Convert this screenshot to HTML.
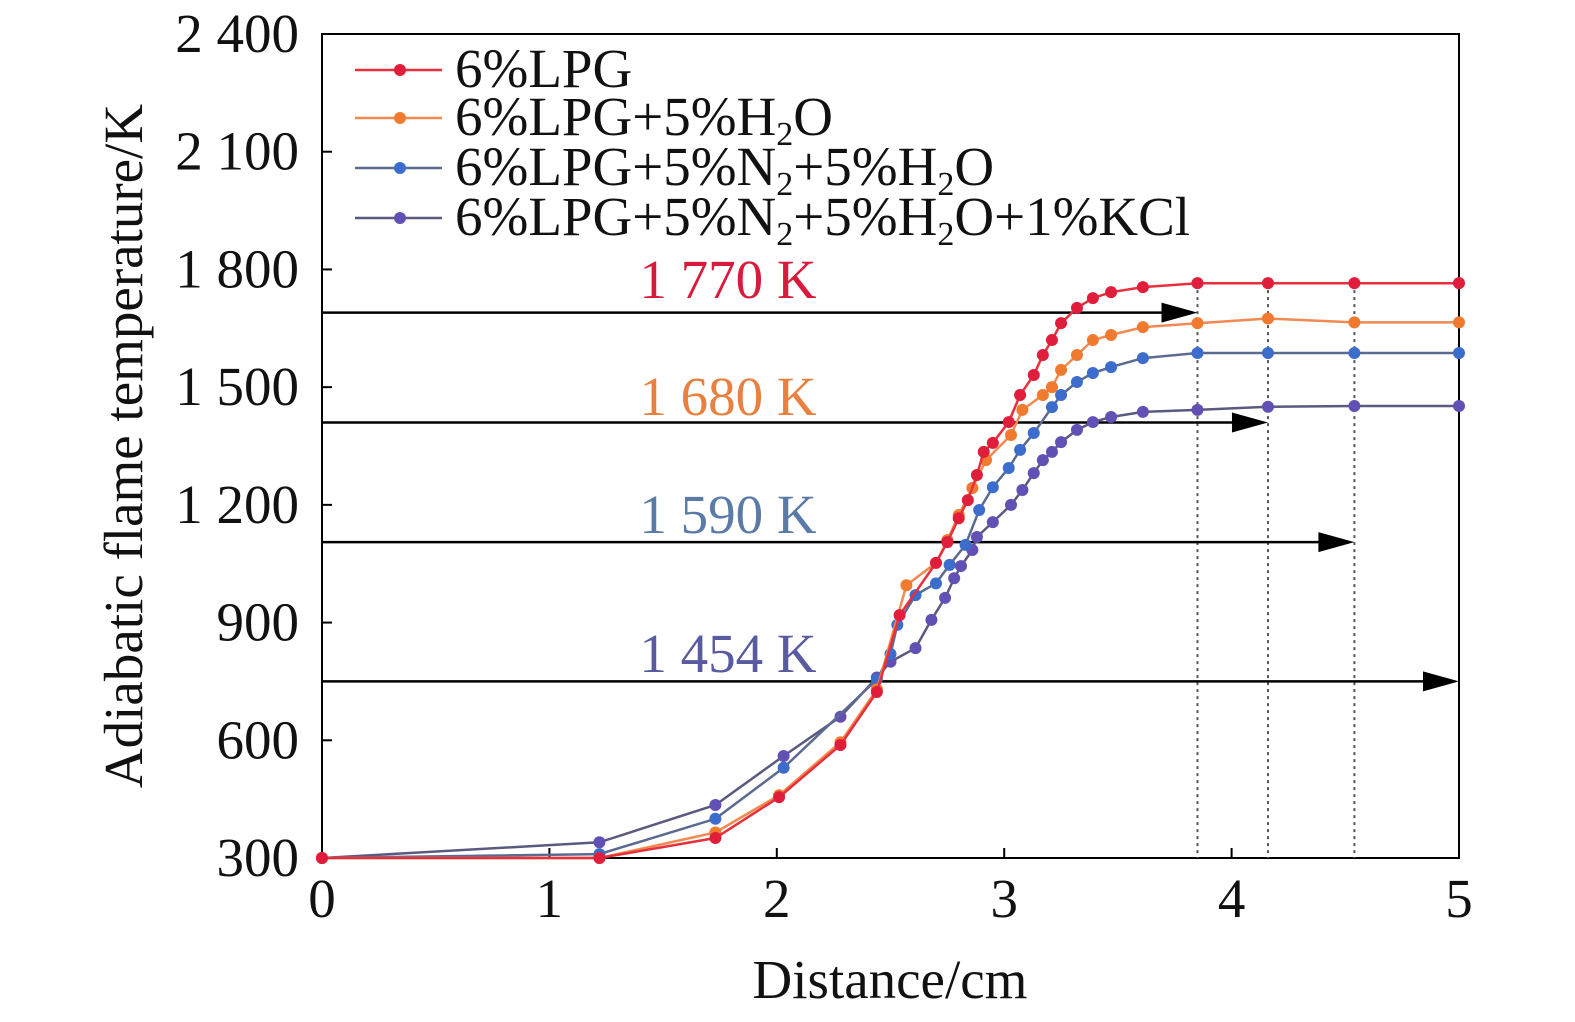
<!DOCTYPE html>
<html><head><meta charset="utf-8"><style>
body{margin:0;background:#fff;}
svg{display:block;font-family:"Liberation Serif",serif;}
</style></head><body>
<svg id="chart" width="1575" height="1022" viewBox="0 0 1575 1022"></svg>
<script>
const xTicks=[0,1,2,3,4,5];
const yTicks=[300,600,900,1200,1500,1800,2100,2400];
const yTickLabels=["300","600","900","1 200","1 500","1 800","2 100","2 400"];
const seriesNames=["6%LPG","6%LPG+5%H2O","6%LPG+5%N2+5%H2O","6%LPG+5%N2+5%H2O+1%KCl"];
const redX=[0,1.22,1.73,2.01,2.28,2.44,2.54,2.70,2.75,2.80,2.84,2.88,2.91,2.95,3.02,3.07,3.13,3.17,3.21,3.25,3.32,3.39,3.47,3.61,3.85,4.16,4.54,5];
const redT=[300,300,351,455,588,723,919,1052,1105,1166,1212,1276,1335,1358,1411,1480,1531,1582,1620,1663,1702,1727,1742,1755,1765,1765,1765,1765];
const orangeX=[0,1.22,1.73,2.01,2.28,2.44,2.57,2.70,2.75,2.80,2.86,2.92,3.03,3.08,3.17,3.21,3.25,3.32,3.39,3.47,3.61,3.85,4.16,4.54,5];
const orangeT=[300,300,365,460,595,730,995,1052,1110,1174,1243,1314,1378,1442,1480,1500,1544,1582,1620,1633,1653,1663,1675,1665,1665];
const blueX=[0,1.22,1.73,2.03,2.44,2.50,2.53,2.61,2.70,2.76,2.83,2.89,2.95,3.02,3.07,3.13,3.21,3.25,3.32,3.39,3.47,3.61,3.85,4.16,4.54,5];
const blueT=[300,310,400,530,755,820,894,970,1000,1047,1098,1187,1245,1294,1340,1383,1449,1480,1513,1536,1551,1574,1587,1587,1587,1587];
const purpleX=[0,1.22,1.73,2.03,2.28,2.44,2.50,2.61,2.68,2.74,2.78,2.81,2.86,2.88,2.95,3.03,3.08,3.13,3.17,3.21,3.25,3.32,3.39,3.47,3.61,3.85,4.16,4.54,5];
const purpleT=[300,340,435,560,660,760,800,835,907,963,1013,1044,1085,1118,1156,1200,1238,1281,1314,1335,1360,1391,1411,1424,1437,1442,1450,1452,1452];
const arrowT=[1690,1410,1105,750];
const arrowEndX=[3.85,4.16,4.54,5];
const annoLabels=["1 770 K","1 680 K","1 590 K","1 454 K"];
const annoT=[1773,1475,1174,820];

const L=322,R=1459,T0=34,B=858;
const sx=v=>L+(v-0)/(5-0)*(R-L);
const sy=v=>B-(v-300)/(2400-300)*(B-T0);
const NS="http://www.w3.org/2000/svg";
const svg=document.getElementById('chart');
function mk(tag,attrs,parent){const e=document.createElementNS(NS,tag);for(const k in attrs)e.setAttribute(k,attrs[k]);(parent||svg).appendChild(e);return e;}
const colors=["#e01e3c","#f07a30","#3c6ccc","#6250b4"];
const lineCols=["#e8303c","#f08a50","#5a6a90","#5a5a80"];
const annoCols=["#d81b3c","#e88040","#5a7aa8","#5a5aa0"];
const FS=55;

const frame=mk('rect',{x:L,y:T0,width:R-L,height:B-T0,fill:'none',stroke:'#000','stroke-width':2});



yTicks.forEach((v,i)=>{
  const t=mk('line',{x1:L,x2:L+10,y1:sy(v),y2:sy(v),stroke:'#000','stroke-width':2});
  
  
  const tx=mk('text',{x:299,y:sy(v)+18,'text-anchor':'end','font-size':FS,fill:'#111'});
  tx.textContent=yTickLabels[i];
  
  
});
xTicks.forEach(v=>{
  const t=mk('line',{x1:sx(v),x2:sx(v),y1:B,y2:B-10,stroke:'#000','stroke-width':2});
  
  
  const tx=mk('text',{x:sx(v),y:917,'text-anchor':'middle','font-size':FS,fill:'#111'});
  tx.textContent=v;
  
  
});
const xt=mk('text',{x:890,y:998,'text-anchor':'middle','font-size':FS,fill:'#111'});
xt.textContent='Distance/cm';


const yt=mk('text',{x:0,y:0,'text-anchor':'middle','font-size':FS,fill:'#111',transform:'translate(142,446) rotate(-90)'});
yt.textContent='Adiabatic flame temperature/K';



arrowT.forEach((v,i)=>{
  const ex=sx(arrowEndX[i]);
  const a=mk('line',{x1:L,x2:ex-10,y1:sy(v),y2:sy(v),stroke:'#000','stroke-width':2.5});
  
  
  const m=mk('path',{d:`M${ex-36},${sy(v)-10} L${ex},${sy(v)} L${ex-36},${sy(v)+10} Z`,fill:'#000'});
  
  
  if(i<3){
    const d=mk('line',{x1:ex,x2:ex,y1:sy(1765),y2:B,stroke:'#555','stroke-width':2,'stroke-dasharray':'3,4'});
    
    
  }
  const tx=mk('text',{x:728,y:sy(annoT[i])+18,'text-anchor':'middle','font-size':FS,fill:annoCols[i]});
  tx.textContent=annoLabels[i];
  
  
});

const sets=[[redX,redT],[orangeX,orangeT],[blueX,blueT],[purpleX,purpleT]];
[3,2,1,0].forEach(i=>{
  const [xs,ts]=sets[i];
  const g=mk('g',{});
  
  
  const d=xs.map((x,j)=>(j?'L':'M')+sx(x).toFixed(1)+','+sy(ts[j]).toFixed(1)).join(' ');
  const p=mk('path',{d:d,fill:'none',stroke:lineCols[i],'stroke-width':2.5},g);
  
  
  xs.forEach((x,j)=>{
    const c=mk('circle',{cx:sx(x),cy:sy(ts[j]),r:6,fill:colors[i]},g);
    
    
  });
});

const legendY=[70,118,168,218];
const legendHtml=['6%LPG','6%LPG+5%H<tspan dy="10" font-size="34">2</tspan><tspan dy="-10">O</tspan>',
'6%LPG+5%N<tspan dy="10" font-size="34">2</tspan><tspan dy="-10">+5%H</tspan><tspan dy="10" font-size="34">2</tspan><tspan dy="-10">O</tspan>',
'6%LPG+5%N<tspan dy="10" font-size="34">2</tspan><tspan dy="-10">+5%H</tspan><tspan dy="10" font-size="34">2</tspan><tspan dy="-10">O+1%KCl</tspan>'];
legendY.forEach((y,i)=>{
  const g=mk('g',{});
  
  
  mk('line',{x1:355,x2:442,y1:y,y2:y,stroke:lineCols[i],'stroke-width':2.5},g);
  mk('circle',{cx:400,cy:y,r:6,fill:colors[i]},g);
  const t=mk('text',{x:455,y:y+17,'font-size':FS,fill:'#111'},g);
  t.innerHTML=legendHtml[i];
});
</script>
</body></html>
